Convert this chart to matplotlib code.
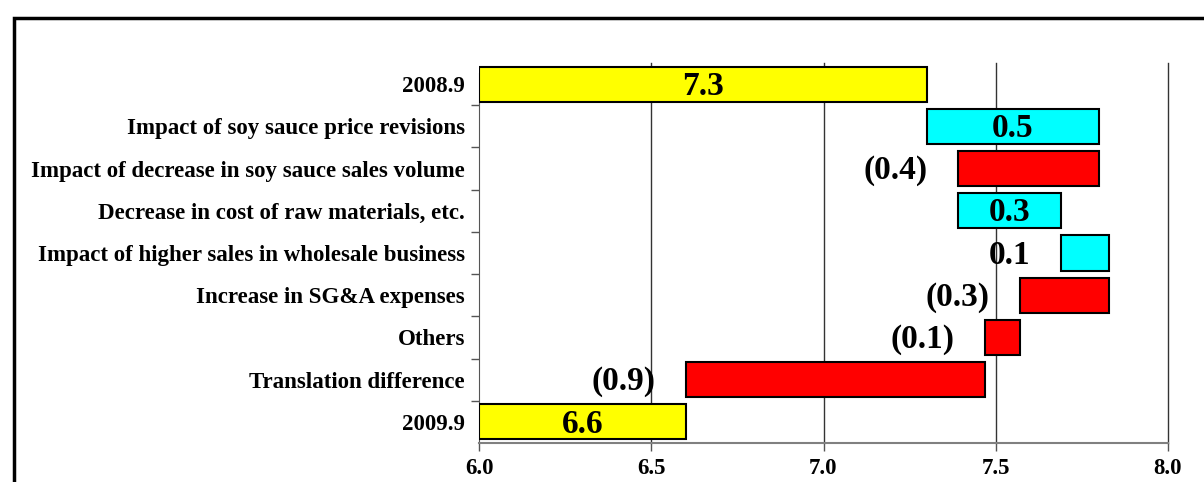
import matplotlib
matplotlib.use("Agg")
import matplotlib.pyplot as plt
import matplotlib.patches as patches
import numpy as np

# Categories (top to bottom) and waterfall values (billion yen)
categories = ["2008.9",
              "Impact of soy sauce price revisions",
              "Impact of decrease in soy sauce sales volume",
              "Decrease in cost of raw materials, etc.",
              "Impact of higher sales in wholesale business",
              "Increase in SG&A expenses",
              "Others",
              "Translation difference",
              "2009.9"]
start_value = 7.30
deltas = [0.50, -0.41, 0.30, 0.14, -0.26, -0.10, -0.87]
end_value = 6.60
bar_labels = ["7.3", "0.5", "(0.4)", "0.3", "0.1", "(0.3)", "(0.1)", "(0.9)", "6.6"]
label_inside = [True, True, False, True, False, False, False, False, True]
x_ticks = [6.0, 6.5, 7.0, 7.5, 8.0]
x_tick_labels = ["6.0", "6.5", "7.0", "7.5", "8.0"]

FONT = "Liberation Serif"
YELLOW = "#FFFF00"
CYAN = "#00FFFF"
RED = "#FF0000"


def waterfall_segments():
    lefts, widths, colors = [], [], []
    # start bar from axis minimum
    lefts.append(x_ticks[0])
    widths.append(start_value - x_ticks[0])
    colors.append(YELLOW)
    level = start_value
    for d in deltas:
        new_level = level + d
        lefts.append(min(level, new_level))
        widths.append(abs(d))
        colors.append(CYAN if d > 0 else RED)
        level = new_level
    lefts.append(x_ticks[0])
    widths.append(end_value - x_ticks[0])
    colors.append(YELLOW)
    return lefts, widths, colors


def main():
    fig = plt.figure(figsize=(12.04, 4.82), dpi=100)
    ax = fig.add_axes([479 / 1204, 1 - 443 / 482, (1168 - 479) / 1204, (443 - 63) / 482])

    lefts, widths, colors = waterfall_segments()
    ypos = np.arange(len(categories))

    ax.barh(ypos, widths, left=lefts, height=0.83, color=colors,
            edgecolor="black", linewidth=1.5, zorder=3)

    # data labels
    for y, l, w, txt, inside in zip(ypos, lefts, widths, bar_labels, label_inside):
        if inside:
            ax.text(l + w / 2, y + 0.05, txt, ha="center", va="center", fontsize=24,
                    fontweight="bold", family=FONT, zorder=4)
        else:
            ax.annotate(txt, xy=(l, y + 0.05), xytext=(-22, 0), textcoords="offset points",
                        ha="right", va="center", fontsize=24, fontweight="bold",
                        family=FONT, zorder=4)

    ax.set_xlim(x_ticks[0], x_ticks[-1])
    ax.set_ylim(len(categories) - 0.5, -0.5)

    ax.set_xticks(x_ticks)
    ax.set_xticklabels(x_tick_labels, fontsize=16.5, fontweight="bold", family=FONT)
    ax.set_yticks(ypos)
    ax.set_yticklabels(categories, fontsize=16.5, fontweight="bold", family=FONT)
    ax.set_yticks(np.arange(0.5, len(categories) - 1, 1.0), minor=True)

    ax.tick_params(axis="y", which="major", length=0, pad=10)
    ax.tick_params(axis="y", which="minor", length=6, width=1, color="#555555",
                   direction="out")
    ax.tick_params(axis="x", which="major", length=6, width=1, color="#555555",
                   direction="out", pad=5)

    for xv in x_ticks[1:]:
        ax.axvline(xv, color="#333333", linewidth=1, zorder=0, clip_on=False)

    for side in ["top", "right"]:
        ax.spines[side].set_visible(False)
    ax.spines["left"].set_color("#555555")
    ax.spines["left"].set_bounds(len(categories) - 0.5, -0.26)
    ax.spines["bottom"].set_color("#808080")
    ax.spines["bottom"].set_linewidth(1.5)

    # thick frame around the chart
    frame = patches.Rectangle((14 / 1204, -0.2), 1.2, 1.2 - 18 / 482,
                              transform=fig.transFigure, fill=False,
                              edgecolor="black", linewidth=2.5, clip_on=False)
    fig.patches.append(frame)

    fig.savefig("out.png", dpi=100)


if __name__ == "__main__":
    main()
